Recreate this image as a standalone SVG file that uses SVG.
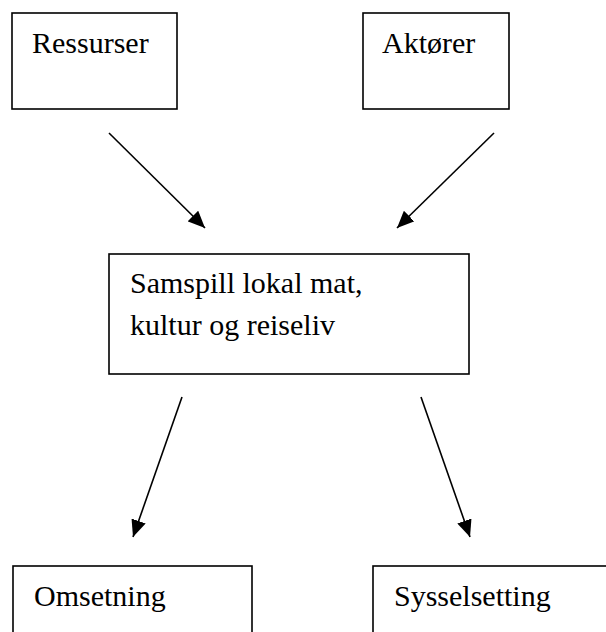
<svg xmlns="http://www.w3.org/2000/svg" width="606" height="632" viewBox="0 0 606 632">
  <style>
    .box { fill: #ffffff; stroke: #000000; stroke-width: 1.6; }
    .lbl { font-family: "Liberation Serif", "DejaVu Serif", serif; font-size: 30px; fill: #000000; }
    .conn { stroke: #000000; stroke-width: 1.6; fill: none; marker-end: url(#arrow); }
  </style>
  <defs>
    <marker id="arrow" markerUnits="userSpaceOnUse" markerWidth="18" markerHeight="15" refX="17" refY="7.5" orient="auto">
      <path d="M0,0 L17,7.5 L0,15 z" fill="#000000"/>
    </marker>
  </defs>
  <rect width="606" height="632" fill="#ffffff"/>

  <g id="ressurser">
    <rect class="box" x="12" y="13" width="165" height="96"/>
    <text class="lbl" x="32" y="53">Ressurser</text>
  </g>
  <g id="aktorer">
    <rect class="box" x="363" y="13" width="146" height="96"/>
    <text class="lbl" x="382" y="53">Aktører</text>
  </g>
  <g id="samspill">
    <rect class="box" x="109" y="254" width="360" height="120"/>
    <text class="lbl" x="130" y="293">Samspill lokal mat,</text>
    <text class="lbl" x="130" y="335">kultur og reiseliv</text>
  </g>
  <g id="omsetning">
    <rect class="box" x="13" y="566" width="239" height="100"/>
    <text class="lbl" x="34" y="606">Omsetning</text>
  </g>
  <g id="sysselsetting">
    <rect class="box" x="373" y="566" width="250" height="100"/>
    <text class="lbl" x="394" y="606">Sysselsetting</text>
  </g>

  <g id="connectors">
    <line class="conn" x1="109" y1="133" x2="205" y2="228"/>
    <line class="conn" x1="494" y1="133" x2="397" y2="228"/>
    <line class="conn" x1="182" y1="397" x2="133" y2="537"/>
    <line class="conn" x1="421" y1="397" x2="470" y2="537"/>
  </g>
</svg>
